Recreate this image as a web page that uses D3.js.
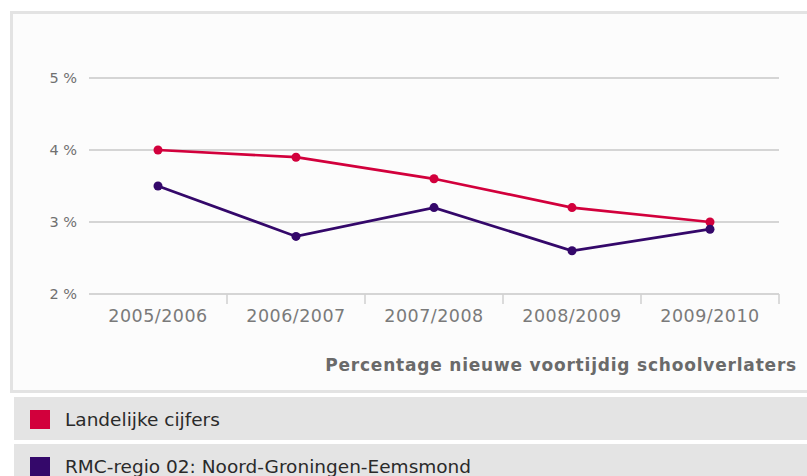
<!DOCTYPE html>
<html>
<head>
<meta charset="utf-8">
<script src="https://cdn.jsdelivr.net/npm/d3@7"></script>
<style>
  body { margin: 0; background: #ffffff; }
  svg { display: block; font-family: "DejaVu Sans", Verdana, sans-serif; }
</style>
</head>
<body>
<div class="chart"></div>
<script>
// schooljaren
var categories = ["2005/2006", "2006/2007", "2007/2008", "2008/2009", "2009/2010"];
// percentages
var landelijk = [4.0, 3.9, 3.6, 3.2, 3.0];
var regio = [3.5, 2.8, 3.2, 2.6, 2.9];
var yTicks = [2, 3, 4, 5];
var seriesNames = ["Landelijke cijfers", "RMC-regio 02: Noord-Groningen-Eemsmond"];
var axisTitle = "Percentage nieuwe voortijdig schoolverlaters";

var colors = ["#d2003c", "#34086a"];

var svg = d3.select(".chart").append("svg")
        .attr("width", 807)
        .attr("height", 476);

// chart box
svg.append("rect")
        .attr("x", 11.5).attr("y", 12.5)
        .attr("width", 820).attr("height", 379)
        .attr("fill", "#fcfcfc")
        .attr("stroke", "#e3e3e3")
        .attr("stroke-width", 3);

var x = d3.scaleBand().domain(categories).range([89, 779]);
var y = d3.scaleLinear().domain([2, 5]).range([294, 78]);

// gridlines
svg.selectAll("line.grid")
        .data(yTicks)
        .enter()
        .append("line")
        .attr("class", "grid")
        .attr("x1", 89).attr("x2", 779)
        .attr("y1", function (d) { return y(d); })
        .attr("y2", function (d) { return y(d); })
        .attr("stroke", "#c8c8c8")
        .attr("stroke-width", 1.5);

svg.selectAll("text.ylab")
        .data(yTicks)
        .enter()
        .append("text")
        .attr("class", "ylab")
        .attr("x", 77)
        .attr("y", function (d) { return y(d); })
        .attr("dy", "0.36em")
        .attr("text-anchor", "end")
        .attr("font-size", 14.5)
        .attr("fill", "#707070")
        .text(function (d) { return d + " %"; });

// tick marks between the years
var tickPos = categories.slice(1).map(function (c) { return x(c); });
tickPos.push(x(categories[categories.length - 1]) + x.bandwidth());
svg.selectAll("line.xtick")
        .data(tickPos)
        .enter()
        .append("line")
        .attr("class", "xtick")
        .attr("x1", function (d) { return d; })
        .attr("x2", function (d) { return d; })
        .attr("y1", 294).attr("y2", 304)
        .attr("stroke", "#d0d0d0")
        .attr("stroke-width", 1.5);

var xAxis = svg.append("g")
        .attr("transform", "translate(0,294)")
        .call(d3.axisBottom(x).tickSize(0).tickPadding(16));
xAxis.select(".domain").remove();
xAxis.selectAll("text")
        .attr("font-family", "DejaVu Sans, Verdana, sans-serif")
        .attr("font-size", 17.5)
        .attr("fill", "#7a7a7a")
        .attr("letter-spacing", 0.5);

svg.append("text")
        .attr("x", 797)
        .attr("y", 371)
        .attr("text-anchor", "end")
        .attr("font-size", 17)
        .attr("font-weight", "bold")
        .attr("letter-spacing", 0.8)
        .attr("fill", "#6a6a6a")
        .text(axisTitle);

// lines
var line = d3.line()
        .x(function (d, i) { return x(categories[i]) + x.bandwidth() / 2; })
        .y(function (d) { return y(d); });

[landelijk, regio].forEach(function (values, s) {
    svg.append("path")
            .datum(values)
            .attr("d", line)
            .attr("fill", "none")
            .attr("stroke", colors[s])
            .attr("stroke-width", 2.7);
    svg.selectAll("circle.s" + s)
            .data(values)
            .enter()
            .append("circle")
            .attr("class", "s" + s)
            .attr("cx", function (d, i) { return x(categories[i]) + x.bandwidth() / 2; })
            .attr("cy", function (d) { return y(d); })
            .attr("r", 4.5)
            .attr("fill", colors[s]);
});

// legend
var legend = svg.selectAll("g.legend")
        .data(seriesNames)
        .enter()
        .append("g")
        .attr("class", "legend")
        .attr("transform", function (d, i) { return "translate(0," + (397 + i * 47) + ")"; });
legend.append("rect")
        .attr("x", 14).attr("y", 0)
        .attr("width", 810).attr("height", 43)
        .attr("fill", "#e4e4e4");
legend.append("rect")
        .attr("x", 30).attr("y", 13)
        .attr("width", 20).attr("height", 19)
        .attr("fill", function (d, i) { return colors[i]; });
legend.append("text")
        .attr("x", 65).attr("y", 29)
        .attr("font-size", 18.5)
        .attr("fill", "#2a2a2a")
        .text(function (d) { return d; });
</script>
</body>
</html>
